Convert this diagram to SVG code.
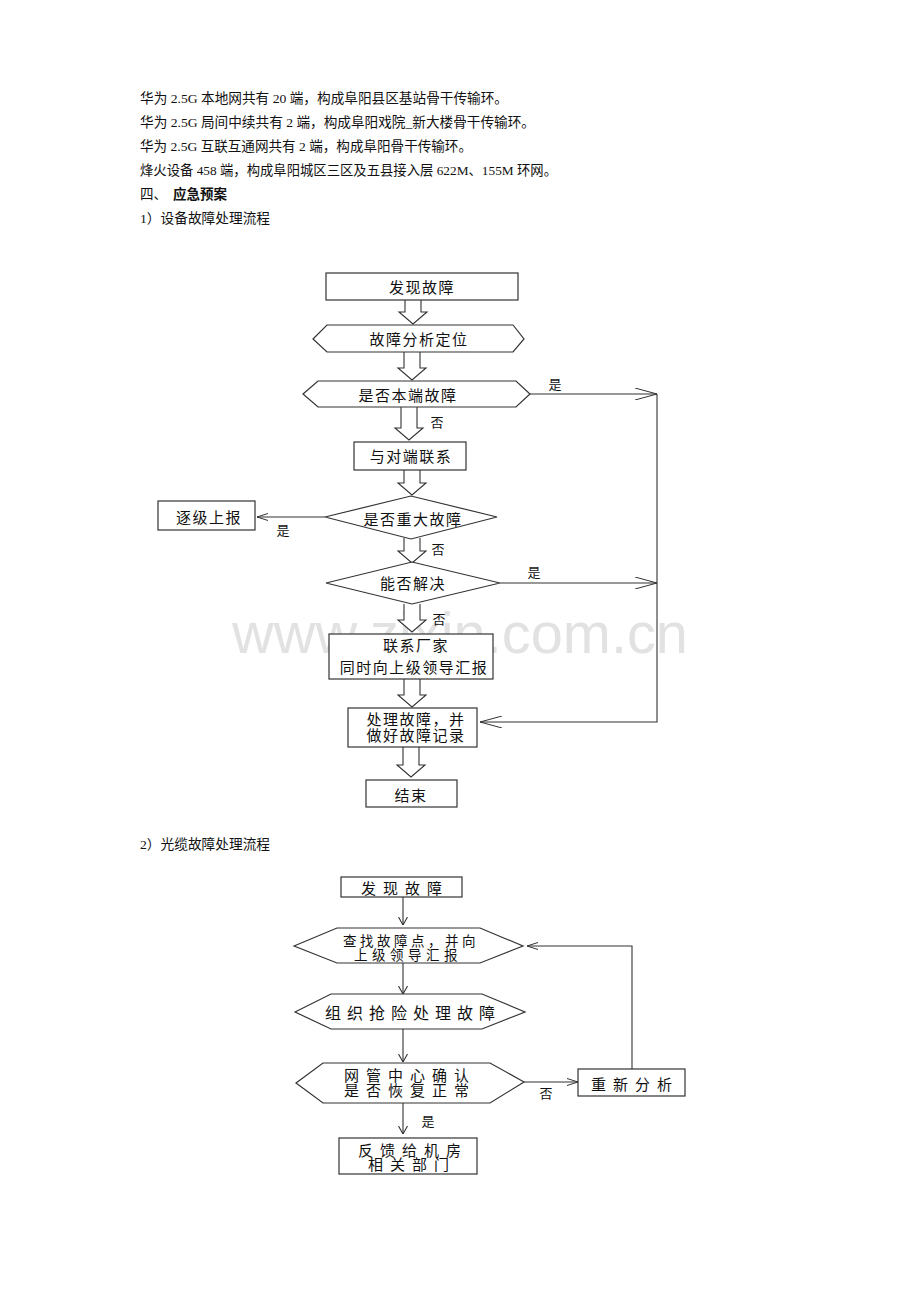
<svg xmlns="http://www.w3.org/2000/svg" width="920" height="1302" viewBox="0 0 920 1302">
<defs>
<style>
.body{font-family:"Liberation Serif","Noto Sans CJK SC",serif;font-size:13.5px;fill:#111}
.t{font-family:"Noto Sans CJK SC",sans-serif;font-size:15px;fill:#111;text-anchor:middle;dominant-baseline:central;letter-spacing:1.5px}
.t2{font-family:"Noto Sans CJK SC",sans-serif;font-size:15px;fill:#111;text-anchor:middle;dominant-baseline:central;letter-spacing:7px}
.lbl{font-family:"Noto Sans CJK SC",sans-serif;font-size:13px;fill:#111;text-anchor:middle;dominant-baseline:central}
.box{fill:#fff;stroke:#333;stroke-width:1.2}
.ln{fill:none;stroke:#333;stroke-width:1.1}
.ha{fill:#fff;stroke:#333;stroke-width:1.1}
.wm{font-family:"Liberation Sans",Arial,sans-serif;font-size:58px;fill:#e2e2e2}
</style>
<marker id="mLong" viewBox="0 0 22 12" refX="22" refY="6" markerWidth="22" markerHeight="12" markerUnits="userSpaceOnUse" orient="auto">
<path d="M0,0 L22,6 L0,12" fill="none" stroke="#333" stroke-width="1"/>
</marker>
<marker id="mShort" viewBox="0 0 11 8" refX="11" refY="4" markerWidth="11" markerHeight="8" markerUnits="userSpaceOnUse" orient="auto">
<path d="M0,0.5 L11,4 L0,7.5" fill="none" stroke="#333" stroke-width="1"/>
</marker>
<marker id="mDown" viewBox="0 0 8 10" refX="8" refY="5" markerWidth="8" markerHeight="10" markerUnits="userSpaceOnUse" orient="auto">
<path d="M0,0.5 L8,5 L0,9.5" fill="none" stroke="#333" stroke-width="1.1"/>
</marker>
</defs>
<rect width="920" height="1302" fill="#fff"/>

<text class="wm" x="232" y="653" textLength="456" lengthAdjust="spacingAndGlyphs">www.zixin.com.cn</text>

<g id="intro">
<text class="body" x="140" y="103" textLength="368" lengthAdjust="spacingAndGlyphs">华为 2.5G 本地网共有 20 端，构成阜阳县区基站骨干传输环。</text>
<text class="body" x="140" y="127" textLength="395" lengthAdjust="spacingAndGlyphs">华为 2.5G 局间中续共有 2 端，构成阜阳戏院_新大楼骨干传输环。</text>
<text class="body" x="140" y="151" textLength="332" lengthAdjust="spacingAndGlyphs">华为 2.5G 互联互通网共有 2 端，构成阜阳骨干传输环。</text>
<text class="body" x="140" y="175" textLength="417" lengthAdjust="spacingAndGlyphs">烽火设备 458 端，构成阜阳城区三区及五县接入层 622M、155M 环网。</text>
<text class="body" x="140" y="199">四、 <tspan x="173" font-weight="bold">应急预案</tspan></text>
<text class="body" x="140" y="223" textLength="130" lengthAdjust="spacingAndGlyphs">1）设备故障处理流程</text>
<text class="body" x="140" y="849" textLength="130" lengthAdjust="spacingAndGlyphs">2）光缆故障处理流程</text>
</g>

<!-- Flowchart 1 -->
<g id="connectors1">
<path class="ln" d="M530,394 H657" marker-end="url(#mLong)"/>
<path class="ln" d="M657,394 V722 H480" marker-end="url(#mLong)"/>
<path class="ln" d="M500,583 H657" marker-end="url(#mLong)"/>
<path class="ln" d="M325,517 H257" marker-end="url(#mShort)"/>
<path class="ha" d="M405,300 V312 H399 L413,324 L427,312 H421 V300"/>
<path class="ha" d="M404,352 V368 H398 L412,380 L426,368 H420 V352"/>
<path class="ha" d="M401,407 V428 H395 L409,440 L423,428 H417 V407"/>
<path class="ha" d="M404,470 V483 H398 L412,495 L426,483 H420 V470"/>
<path class="ha" d="M404,538 V551 H398 L412,563 L426,551 H420 V538"/>
<path class="ha" d="M404,604 V620 H398 L412,632 L426,620 H420 V604"/>
<path class="ha" d="M404,679 V695 H398 L412,707 L426,695 H420 V679"/>
<path class="ha" d="M403,747 V765 H397 L411,777 L425,765 H419 V747"/>
<text class="lbl" x="555" y="383">是</text>
<text class="lbl" x="437" y="421">否</text>
<text class="lbl" x="283" y="529">是</text>
<text class="lbl" x="438" y="548">否</text>
<text class="lbl" x="534" y="571">是</text>
<text class="lbl" x="439" y="618">否</text>
</g>

<g id="n1-discover">
<rect class="box" x="326" y="273" width="192" height="27"/>
<text class="t" x="422" y="286">发现故障</text>
</g>
<g id="n1-analyze">
<polygon class="box" points="313,339 327,325 513,325 524,339 513,352 327,352"/>
<text class="t" x="419" y="338">故障分析定位</text>
</g>
<g id="n1-local">
<polygon class="box" points="303,394 318,381 516,381 530,394 516,407 318,407"/>
<text class="t" x="408" y="394">是否本端故障</text>
</g>
<g id="n1-contact">
<rect class="box" x="354" y="442" width="112" height="28"/>
<text class="t" x="411" y="455">与对端联系</text>
</g>
<g id="n1-major">
<polygon class="box" points="325,517 411,496 497,517 411,539"/>
<text class="t" x="413" y="518">是否重大故障</text>
</g>
<g id="n1-report">
<rect class="box" x="158" y="501" width="97" height="29"/>
<text class="t" x="209" y="516">逐级上报</text>
</g>
<g id="n1-solve">
<polygon class="box" points="326,583 412,562 500,583 412,604"/>
<text class="t" x="413" y="582">能否解决</text>
</g>
<g id="n1-vendor">
<rect class="box" x="329" y="634" width="164" height="45"/>
<text class="t" x="416" y="644">联系厂家</text>
<text class="t" x="414" y="666">同时向上级领导汇报</text>
</g>
<g id="n1-handle">
<rect class="box" x="348" y="708" width="129" height="39"/>
<text class="t" x="416" y="718">处理故障，并</text>
<text class="t" x="416" y="734">做好故障记录</text>
</g>
<g id="n1-end">
<rect class="box" x="366" y="780" width="91" height="27"/>
<text class="t" x="411" y="794">结束</text>
</g>

<!-- Flowchart 2 -->
<g id="connectors2">
<path class="ln" d="M403,897 V925" marker-end="url(#mDown)"/>
<path class="ln" d="M403,963 V994" marker-end="url(#mDown)"/>
<path class="ln" d="M403,1029 V1062" marker-end="url(#mDown)"/>
<path class="ln" d="M403,1103 V1134" marker-end="url(#mDown)"/>
<path class="ln" d="M524,1082 H578" marker-end="url(#mShort)"/>
<path class="ln" d="M632,1069 V946 H527" marker-end="url(#mShort)"/>
<text class="lbl" x="546" y="1092">否</text>
<text class="lbl" x="428" y="1120">是</text>
</g>
<g id="n2-discover">
<rect class="box" x="341" y="877" width="121" height="20"/>
<text class="t2" x="405" y="887">发现故障</text>
</g>
<g id="n2-locate">
<polygon class="box" points="294,946 337,928 480,928 523,946 480,963 337,963"/>
<text class="t2" x="411" y="940" style="font-size:13.5px;letter-spacing:3.5px">查找故障点，并向</text>
<text class="t2" x="408" y="954" style="font-size:13.5px;letter-spacing:4.5px">上级领导汇报</text>
</g>
<g id="n2-repair">
<polygon class="box" points="295,1012 331,994 482,994 525,1012 482,1029 331,1029"/>
<text class="t2" x="413" y="1012" style="font-size:16px;letter-spacing:6px">组织抢险处理故障</text>
</g>
<g id="n2-confirm">
<polygon class="box" points="296,1083 323,1063 490,1063 524,1082 490,1103 323,1103"/>
<text class="t2" x="410" y="1074">网管中心确认</text>
<text class="t2" x="410" y="1089">是否恢复正常</text>
</g>
<g id="n2-reanalyze">
<rect class="box" x="578" y="1069" width="107" height="27"/>
<text class="t2" x="635" y="1083">重新分析</text>
</g>
<g id="n2-feedback">
<rect class="box" x="339" y="1138" width="138" height="36"/>
<text class="t2" x="413" y="1149">反馈给机房</text>
<text class="t2" x="412" y="1163">相关部门</text>
</g>
</svg>
